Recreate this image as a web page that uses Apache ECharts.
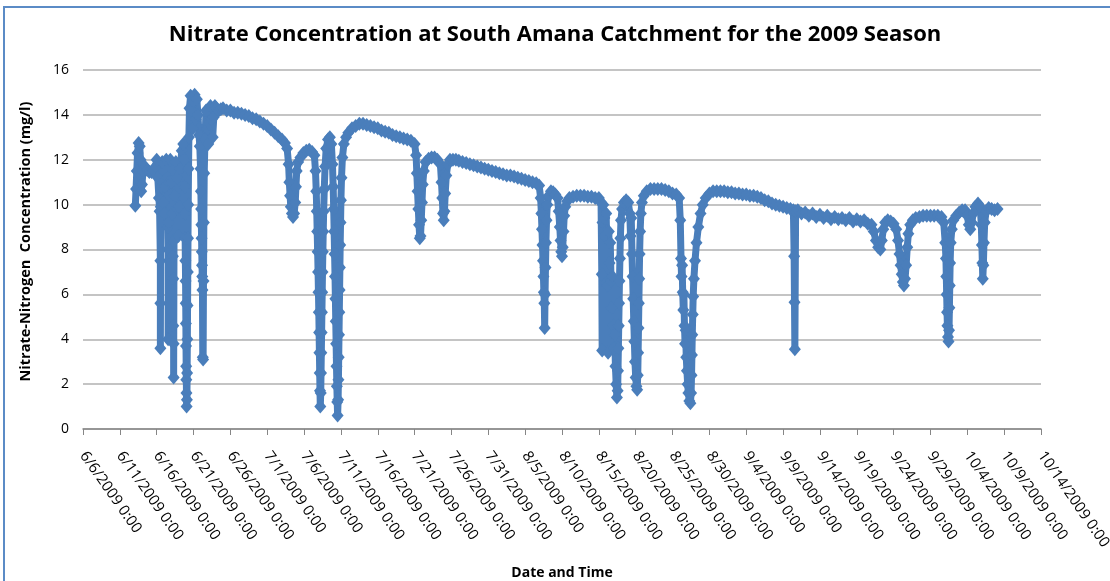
<!DOCTYPE html>
<html>
<head>
<meta charset="utf-8">
<title>Nitrate Concentration at South Amana Catchment</title>
<script src="https://cdn.jsdelivr.net/npm/echarts@6/dist/echarts.min.js"></script>
<style>
  html, body { margin: 0; padding: 0; background: #fff; }
  #chartLine { width: 1110px; height: 581px; }
</style>
</head>
<body>
<div id="chartLine"></div>
<script>
// [days after 6/6/2009 0:00, nitrate-N mg/l]
var juneReadings = [
  [7.1, 9.95], [7.2, 10.7], [7.3, 11.5], [7.4, 12.3], [7.55, 12.75], [7.7, 12.6], [7.8, 12.0], [7.85, 11.3], [7.9, 10.6],
  [8.0, 10.9], [8.15, 11.5], [8.4, 11.7], [8.7, 11.55], [9.0, 11.45], [9.3, 11.45], [9.6, 11.5], [9.85, 11.7],
  [10.0, 12.0], [10.15, 11.2], [10.3, 10.3], [10.4, 9.7], [10.5, 7.5], [10.5, 5.6], [10.5, 3.6], [10.55, 9.9],
  [10.65, 10.8], [10.75, 11.9], [10.85, 11.0], [10.95, 10.1], [11.05, 9.6], [11.15, 10.8], [11.3, 12.0], [11.45, 11.2],
  [11.5, 9.0], [11.55, 8.0], [11.55, 4.0], [11.6, 9.2], [11.7, 11.0], [11.85, 12.0], [12.0, 11.0], [12.1, 9.6],
  [12.2, 7.7], [12.25, 6.7], [12.25, 4.6], [12.3, 3.8], [12.3, 2.3], [12.35, 8.4], [12.45, 10.4], [12.6, 11.9],
  [12.75, 11.2], [12.85, 9.8], [12.95, 8.6], [13.05, 9.9], [13.2, 11.6], [13.4, 12.4], [13.6, 12.7],
  [13.75, 12.0], [13.8, 10.8], [13.83, 9.6], [13.86, 8.5], [13.89, 7.5], [13.92, 6.6], [13.94, 5.6], [13.96, 4.7],
  [13.98, 3.7], [14.0, 2.8], [14.02, 2.2], [14.04, 1.6], [14.06, 1.0], [14.1, 1.3], [14.13, 2.5], [14.16, 4.0],
  [14.19, 5.5], [14.22, 7.0], [14.25, 8.5], [14.28, 10.0], [14.32, 11.6], [14.37, 13.0], [14.45, 14.3], [14.6, 14.85],
  [14.75, 14.2], [14.9, 13.4], [15.0, 14.6], [15.15, 14.9], [15.3, 13.8], [15.45, 14.7], [15.6, 14.0], [15.75, 13.1], [15.85, 12.6],
  [15.95, 11.6], [16.0, 10.6], [16.03, 9.8], [16.06, 9.1], [16.09, 8.5], [16.12, 7.9], [16.15, 7.3], [16.18, 6.8],
  [16.21, 6.2], [16.25, 3.2], [16.3, 3.1], [16.35, 6.6], [16.4, 9.2], [16.45, 11.4], [16.55, 12.9], [16.7, 14.2],
  [16.85, 13.4], [17.0, 12.7], [17.15, 13.6], [17.3, 14.4], [17.45, 13.8], [17.6, 13.0], [17.75, 13.9], [17.9, 14.4],
  [18.1, 14.3], [18.4, 14.2], [18.7, 14.25], [19.0, 14.3], [19.5, 14.2], [20.0, 14.2], [20.5, 14.1], [21.0, 14.1],
  [21.5, 14.05], [22.0, 14.0], [22.5, 13.95], [23.0, 13.85], [23.5, 13.8], [24.0, 13.7], [24.5, 13.6]
]
var julyReadings = [
  [25.0, 13.5], [25.5, 13.35], [26.0, 13.2], [26.5, 13.05], [27.0, 12.9], [27.4, 12.75], [27.7, 12.5],
  [27.9, 11.8], [28.0, 11.0], [28.1, 10.4], [28.2, 9.9], [28.35, 9.6], [28.5, 9.45], [28.65, 9.6], [28.8, 10.1],
  [28.9, 10.8], [29.0, 11.5], [29.2, 11.9], [29.5, 12.1], [29.9, 12.3], [30.3, 12.4], [30.7, 12.45], [31.1, 12.35], [31.4, 12.2],
  [31.55, 11.5], [31.65, 10.6], [31.72, 9.7], [31.78, 8.8], [31.84, 7.9], [31.9, 7.0], [31.95, 6.1], [32.0, 5.2],
  [32.04, 4.3], [32.08, 3.4], [32.12, 2.5], [32.16, 1.7], [32.2, 1.0], [32.26, 1.6], [32.3, 2.5], [32.34, 3.4],
  [32.38, 4.3], [32.42, 5.2], [32.46, 6.1], [32.5, 7.0], [32.55, 7.9], [32.6, 8.8], [32.66, 9.7], [32.74, 10.7],
  [32.85, 11.7], [33.0, 12.5], [33.25, 12.9], [33.5, 13.0], [33.7, 12.7],
  [33.85, 11.8], [33.95, 10.8], [34.02, 9.8], [34.08, 8.8], [34.14, 7.8], [34.2, 6.8], [34.25, 5.8], [34.3, 4.8],
  [34.35, 3.8], [34.4, 2.8], [34.45, 1.9], [34.5, 1.2], [34.55, 0.6], [34.62, 1.3], [34.66, 2.2], [34.7, 3.2],
  [34.74, 4.2], [34.78, 5.2], [34.82, 6.2], [34.86, 7.2], [34.9, 8.2], [34.95, 9.2], [35.0, 10.2], [35.08, 11.2],
  [35.2, 12.1], [35.4, 12.7], [35.7, 13.0], [36.0, 13.2], [36.5, 13.4], [37.0, 13.5], [37.5, 13.6], [38.0, 13.6],
  [38.5, 13.55], [39.0, 13.5], [39.5, 13.45], [40.0, 13.4], [40.5, 13.3], [41.0, 13.25], [41.5, 13.2], [42.0, 13.1],
  [42.5, 13.05], [43.0, 13.0], [43.5, 12.95], [44.0, 12.9], [44.5, 12.85], [45.0, 12.7],
  [45.2, 12.2], [45.3, 11.4], [45.4, 10.6], [45.5, 9.8], [45.6, 9.1], [45.7, 8.5], [45.8, 8.6], [45.9, 9.3],
  [46.0, 10.1], [46.1, 10.9], [46.25, 11.5], [46.5, 11.9], [46.9, 12.05], [47.3, 12.1], [47.7, 12.1], [48.1, 12.0], [48.5, 11.8],
  [48.65, 11.0], [48.75, 10.3], [48.85, 9.6], [48.95, 9.3], [49.05, 9.7], [49.15, 10.5], [49.3, 11.3], [49.5, 11.8],
  [49.8, 12.0], [50.2, 12.0], [50.6, 12.0], [51.0, 11.95], [51.5, 11.9], [52.0, 11.85], [52.5, 11.8], [53.0, 11.75],
  [53.5, 11.7], [54.0, 11.65], [54.5, 11.6], [55.0, 11.55], [55.5, 11.5]
]
var augustReadings = [
  [56.0, 11.45], [56.5, 11.4], [57.0, 11.35], [57.5, 11.3], [58.0, 11.3], [58.5, 11.25], [59.0, 11.2], [59.5, 11.15],
  [60.0, 11.1], [60.5, 11.05], [61.0, 11.0], [61.5, 10.95], [61.9, 10.85],
  [62.1, 10.3], [62.2, 9.6], [62.28, 8.9], [62.35, 8.2], [62.42, 7.5], [62.48, 6.8], [62.54, 6.1], [62.6, 5.6],
  [62.65, 4.5], [62.7, 6.0], [62.76, 7.2], [62.82, 8.3], [62.9, 9.3], [63.0, 10.0], [63.2, 10.4], [63.5, 10.6],
  [63.8, 10.55], [64.1, 10.45], [64.4, 10.3],
  [64.55, 9.7], [64.7, 9.0], [64.8, 8.4], [64.9, 7.9], [65.0, 7.7], [65.1, 8.1], [65.2, 8.8], [65.3, 9.5],
  [65.45, 9.9], [65.7, 10.15], [66.0, 10.3], [66.5, 10.35], [67.0, 10.4], [67.5, 10.4], [68.0, 10.4], [68.5, 10.35],
  [69.0, 10.35], [69.5, 10.3], [70.0, 10.3], [70.3, 10.1],
  [70.4, 6.9], [70.45, 3.5], [70.5, 9.2], [70.6, 10.0], [70.75, 9.4], [70.85, 8.6], [71.0, 9.6], [71.15, 6.4],
  [71.25, 3.4], [71.35, 8.8], [71.45, 7.4], [71.55, 8.3], [71.65, 6.6], [71.75, 5.4], [71.85, 6.8], [71.95, 4.6],
  [72.05, 3.6], [72.15, 4.2], [72.25, 2.8], [72.35, 2.0], [72.45, 1.4], [72.55, 1.7], [72.6, 2.6], [72.65, 3.6],
  [72.7, 4.6], [72.75, 5.6], [72.8, 6.6], [72.86, 7.6], [72.92, 8.5], [73.0, 9.3], [73.15, 9.8], [73.4, 10.1],
  [73.7, 10.2], [74.0, 10.1],
  [74.2, 9.6], [74.3, 8.6], [74.4, 9.4], [74.5, 7.8], [74.58, 6.8], [74.66, 5.8], [74.74, 4.8], [74.82, 3.9],
  [74.9, 3.0], [75.0, 2.3], [75.1, 1.9], [75.2, 1.75], [75.28, 2.4], [75.33, 3.4], [75.38, 4.5], [75.43, 5.6],
  [75.48, 6.7], [75.53, 7.8], [75.6, 8.8], [75.7, 9.6], [75.85, 10.1], [76.1, 10.4], [76.5, 10.6], [77.0, 10.7],
  [77.5, 10.7], [78.0, 10.7], [78.5, 10.7], [79.0, 10.65], [79.5, 10.6], [80.0, 10.5], [80.5, 10.45], [80.9, 10.3],
  [81.05, 9.3], [81.15, 7.6], [81.22, 6.8], [81.3, 7.3], [81.38, 6.1], [81.46, 5.3], [81.54, 6.0], [81.62, 4.6],
  [81.7, 3.8], [81.78, 4.4], [81.86, 3.2], [81.95, 2.6], [82.05, 2.0], [82.15, 1.6], [82.28, 1.25], [82.42, 1.15],
  [82.52, 1.6], [82.58, 2.4], [82.63, 3.3], [82.68, 4.2], [82.74, 5.1], [82.8, 5.9], [82.9, 6.7], [83.05, 7.5],
  [83.25, 8.3], [83.5, 9.0], [83.8, 9.6], [84.1, 10.0], [84.5, 10.3], [85.0, 10.5], [85.5, 10.6], [86.0, 10.6], [86.5, 10.6]
]
var septemberReadings = [
  [87.0, 10.6], [87.5, 10.55], [88.0, 10.55], [88.5, 10.5], [89.0, 10.5], [89.5, 10.45], [90.0, 10.45], [90.5, 10.4],
  [91.0, 10.4], [91.5, 10.35], [92.0, 10.3], [92.5, 10.2], [93.0, 10.15], [93.5, 10.05], [94.0, 10.0], [94.5, 9.95],
  [95.0, 9.9], [95.5, 9.85], [96.0, 9.8], [96.4, 9.75],
  [96.5, 7.7], [96.55, 5.65], [96.6, 3.55], [96.7, 9.7], [97.0, 9.75], [97.5, 9.6], [98.0, 9.65], [98.5, 9.5],
  [99.0, 9.6], [99.5, 9.45], [100.0, 9.55], [100.5, 9.4], [101.0, 9.5], [101.5, 9.35], [102.0, 9.45], [102.5, 9.35],
  [103.0, 9.4], [103.5, 9.3], [104.0, 9.4], [104.5, 9.25], [105.0, 9.35], [105.5, 9.25], [106.0, 9.3], [106.5, 9.15], [107.0, 9.1],
  [107.3, 8.8], [107.6, 8.4], [107.9, 8.1], [108.2, 8.0], [108.4, 8.4], [108.6, 8.9], [108.85, 9.2], [109.2, 9.3],
  [109.6, 9.25], [110.0, 9.15], [110.35, 8.9],
  [110.6, 8.4], [110.8, 7.8], [110.95, 7.3], [111.1, 6.9], [111.25, 6.55], [111.4, 6.4], [111.55, 6.7], [111.7, 7.3],
  [111.85, 8.1], [112.0, 8.7], [112.25, 9.1], [112.6, 9.3], [113.0, 9.4], [113.5, 9.45], [114.0, 9.5], [114.5, 9.5],
  [115.0, 9.5], [115.5, 9.5], [116.0, 9.5], [116.5, 9.45], [116.8, 9.2]
]
var octoberReadings = [
  [117.0, 8.3], [117.1, 7.6], [117.15, 6.8], [117.2, 6.0], [117.25, 5.2], [117.3, 4.6], [117.38, 4.1], [117.45, 3.9],
  [117.52, 4.4], [117.57, 5.4], [117.62, 6.4], [117.67, 7.4], [117.75, 8.3], [117.9, 8.9], [118.1, 9.3], [118.5, 9.5],
  [118.9, 9.65], [119.3, 9.75], [119.7, 9.75], [120.0, 9.5],
  [120.2, 9.1], [120.4, 8.9], [120.6, 9.2], [120.8, 9.6], [121.1, 9.9], [121.45, 10.05], [121.75, 9.9],
  [121.9, 9.1], [121.98, 8.2], [122.04, 7.4], [122.1, 6.7], [122.18, 7.3], [122.26, 8.3], [122.36, 9.2], [122.55, 9.7],
  [122.9, 9.85], [123.3, 9.8], [123.7, 9.75], [124.1, 9.8]
]
var tickLabels = [
  '6/6/2009 0:00', '6/11/2009 0:00', '6/16/2009 0:00', '6/21/2009 0:00', '6/26/2009 0:00', '7/1/2009 0:00',
  '7/6/2009 0:00', '7/11/2009 0:00', '7/16/2009 0:00', '7/21/2009 0:00', '7/26/2009 0:00', '7/31/2009 0:00',
  '8/5/2009 0:00', '8/10/2009 0:00', '8/15/2009 0:00', '8/20/2009 0:00', '8/25/2009 0:00', '8/30/2009 0:00',
  '9/4/2009 0:00', '9/9/2009 0:00', '9/14/2009 0:00', '9/19/2009 0:00', '9/24/2009 0:00', '9/29/2009 0:00',
  '10/4/2009 0:00', '10/9/2009 0:00', '10/14/2009 0:00'
]

var allReadings = juneReadings.concat(julyReadings, augustReadings, septemberReadings, octoberReadings)

var chartLine = echarts.init(document.getElementById('chartLine'))
chartLine.setOption({
  animation: false,
  textStyle: { fontFamily: 'Open Sans' },
  title: {
    text: 'Nitrate Concentration at South Amana Catchment for the 2009 Season',
    left: 'center',
    top: 19,
    textStyle: { fontSize: 22, fontWeight: 'bold', color: '#000', fontFamily: 'Open Sans' }
  },
  graphic: [{
    type: 'rect',
    silent: true,
    shape: { x: 4, y: 7, width: 1200, height: 700 },
    style: { fill: 'none', stroke: '#5B8BC6', lineWidth: 2 }
  }],
  grid: {
    left: 83,
    right: 69,
    top: 70,
    bottom: 152,
    outerBoundsMode: 'none'
  },
  xAxis: {
    type: 'value',
    min: 0,
    max: 130,
    interval: 5,
    name: 'Date and Time',
    nameLocation: 'middle',
    nameGap: 137,
    nameTextStyle: { fontSize: 14, fontWeight: 'bold', color: '#000' },
    splitLine: { show: false },
    axisLine: { lineStyle: { color: '#868686', width: 1.5 } },
    axisTick: { length: 6, lineStyle: { color: '#868686' } },
    axisLabel: {
      rotate: -55,
      margin: 24,
      fontSize: 15,
      color: '#000',
      formatter: function (v) { return tickLabels[Math.round(v / 5)] }
    }
  },
  yAxis: {
    type: 'value',
    min: 0,
    max: 16,
    interval: 2,
    name: 'Nitrate-Nitrogen  Concentration (mg/l)',
    nameLocation: 'middle',
    nameGap: 50,
    nameTextStyle: { fontSize: 14.5, fontWeight: 'bold', color: '#000', padding: [0, 0, 0, 16] },
    axisLine: { show: false },
    axisTick: { show: false },
    axisLabel: { fontSize: 14, color: '#000', margin: 14 },
    splitLine: { lineStyle: { color: '#B0B0B0', width: 1.5 } }
  },
  series: [{
    name: 'Nitrate',
    type: 'line',
    data: allReadings,
    symbol: 'diamond',
    symbolSize: [12, 14],
    lineStyle: { color: '#4A7EBB', width: 7, join: 'round' },
    itemStyle: { color: '#4A7EBB', borderWidth: 0 }
  }]
})
</script>
</body>
</html>
